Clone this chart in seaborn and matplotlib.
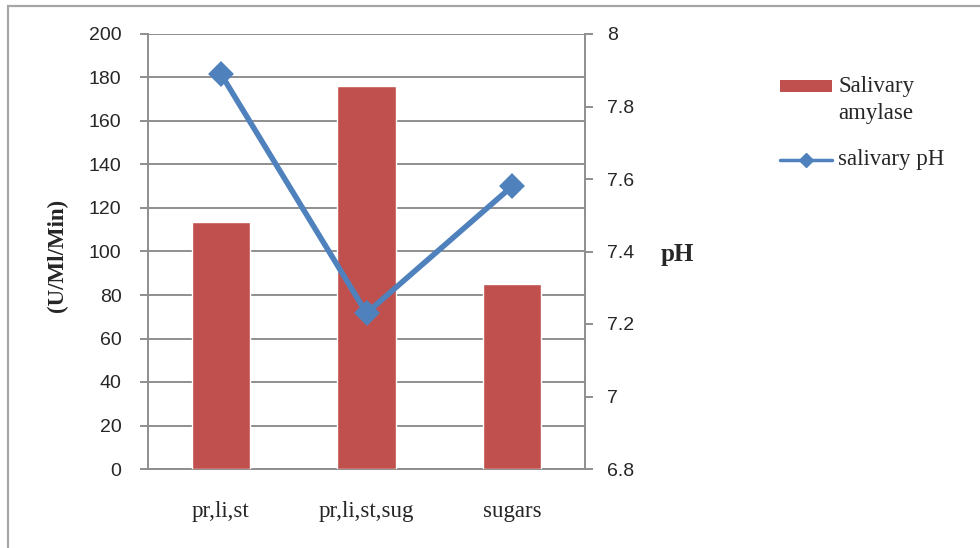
import matplotlib
matplotlib.use("Agg")
import matplotlib.pyplot as plt
from matplotlib.patches import Rectangle
from matplotlib.lines import Line2D
import seaborn as sns
import pandas as pd

# Diet groups and measurements
groups = ["pr,li,st", "pr,li,st,sug", "sugars"]
amylase = [113.5, 176.0, 85.0]      # U/Ml/Min
saliva_ph = [7.89, 7.23, 7.58]      # pH

left_ticks = [0, 20, 40, 60, 80, 100, 120, 140, 160, 180, 200]
right_ticks = [6.8, 7.0, 7.2, 7.4, 7.6, 7.8, 8.0]
right_tick_labels = ["6.8", "7", "7.2", "7.4", "7.6", "7.8", "8"]

BAR_RED = "#C0504D"
LINE_BLUE = "#4F81BD"
GRID = "#8E8E8E"

sns.set_theme(style="white")
plt.rcParams["font.family"] = ["Liberation Serif", "DejaVu Serif"]

df = pd.DataFrame({"group": groups, "amylase": amylase, "ph": saliva_ph})

W, H = 980, 548
fig = plt.figure(figsize=(W / 100, H / 100), dpi=100)
ax = fig.add_axes([148 / W, 1 - 469 / H, 437 / W, 435 / H])

sns.barplot(data=df, x="group", y="amylase", color=BAR_RED, saturation=1,
            width=0.4, ax=ax, zorder=3)
ax.set_ylim(0, 200)
ax.set_yticks(left_ticks)
ax.set_xlim(-0.5, 2.5)
ax.yaxis.grid(True, color=GRID, linewidth=1.4, zorder=0)
ax.set_axisbelow(True)
ax.set_xlabel("")
ax.set_ylabel("")
for side in ["top", "right"]:
    ax.spines[side].set_visible(False)
for side in ["left", "bottom"]:
    ax.spines[side].set_color(GRID)
    ax.spines[side].set_linewidth(1.4)
ax.tick_params(axis="y", direction="out", length=6, width=1.4, color=GRID,
               left=True, pad=13, labelsize=14, labelfontfamily="Liberation Sans")
ax.tick_params(axis="x", bottom=False, pad=17, labelsize=16.5)

ax2 = ax.twinx()
sns.pointplot(data=df, x="group", y="ph", color=LINE_BLUE, markers="D",
              linestyles="-", ax=ax2, linewidth=4.0, markersize=10.5)
ax2.set_ylim(6.8, 8.0)
ax2.set_yticks(right_ticks)
ax2.set_yticklabels(right_tick_labels)
ax2.set_xlim(-0.5, 2.5)
ax2.set_ylabel("")
ax2.set_xlabel("")
for side in ["top", "left", "bottom"]:
    ax2.spines[side].set_visible(False)
ax2.spines["right"].set_color(GRID)
ax2.spines["right"].set_linewidth(1.4)
ax2.tick_params(axis="y", direction="out", length=6, width=1.4, color=GRID,
                right=True, pad=10, labelsize=14, labelfontfamily="Liberation Sans")
ax2.grid(False)

# Axis titles
fig.text(57 / W, 1 - 255 / H, "(U/Ml/Min)", rotation=90, ha="center",
         va="center", fontsize=16.5, fontweight="bold")
fig.text(677 / W, 1 - 255 / H, "pH", ha="center", va="center",
         fontsize=18, fontweight="bold")

# Legend, laid out by hand so the swatch sits beside the first text line
def fx(px):
    return px / W


def fy(py):
    return 1 - py / H


fig.patches.append(Rectangle((fx(780), fy(92)), fx(832) - fx(780), fy(80) - fy(92),
                             transform=fig.transFigure, facecolor=BAR_RED,
                             edgecolor="none"))
fig.text(fx(838), fy(87), "Salivary", ha="left", va="center", fontsize=16.5)
fig.text(fx(838), fy(114), "amylase", ha="left", va="center", fontsize=16.5)
fig.lines.append(Line2D([fx(780), fx(832)], [fy(160), fy(160)],
                        transform=fig.transFigure, color=LINE_BLUE,
                        linewidth=2.5))
fig.lines.append(Line2D([fx(806)], [fy(160)], transform=fig.transFigure,
                        color=LINE_BLUE, marker="D", markersize=7,
                        linestyle="none"))
fig.text(fx(838), fy(160), "salivary pH", ha="left", va="center", fontsize=16.5)

# Chart frame
fig.patches.append(Rectangle((fx(8), -0.05), 1.2, fy(6) + 0.05,
                             transform=fig.transFigure, fill=False,
                             edgecolor="#A6A6A6", linewidth=1.6))

fig.savefig("out.png", dpi=100)
